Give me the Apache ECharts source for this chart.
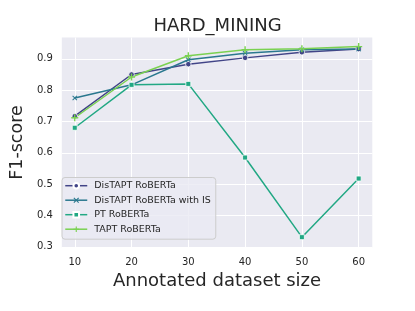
<!DOCTYPE html>
<html>
<head>
<meta charset="utf-8">
<script src="https://cdn.jsdelivr.net/npm/echarts@6/dist/echarts.min.js"></script>
<style>html,body{margin:0;padding:0;background:#fff;}#c{width:415px;height:311px;}</style>
</head>
<body>
<div id="c"></div>
<script>
const sizes = [10, 20, 30, 40, 50, 60];
const xTicks = [10, 20, 30, 40, 50, 60];
const yTicks = [0.3, 0.4, 0.5, 0.6, 0.7, 0.8, 0.9];
const distapt = [0.717, 0.850, 0.883, 0.903, 0.921, 0.931];
const distaptIS = [0.775, 0.817, 0.897, 0.918, 0.929, 0.931];
const ptRoberta = [0.680, 0.817, 0.820, 0.585, 0.331, 0.518];
const tapt = [0.712, 0.842, 0.910, 0.929, 0.932, 0.939];
const names = ['DisTAPT RoBERTa', 'DisTAPT RoBERTa with IS', 'PT RoBERTa', 'TAPT RoBERTa'];
const colors = ['#414487', '#2a788e', '#22a884', '#7ad151'];

const plusPath = 'path://M4,0H6V4H10V6H6V10H4V6H0V4H4Z';
const xPath = 'path://M1.4,0L5,3.6L8.6,0L10,1.4L6.4,5L10,8.6L8.6,10L5,6.4L1.4,10L0,8.6L3.6,5L0,1.4Z';

function mk(name, vals, color, symbol, size, border) {
  return {
    name: name,
    type: 'line',
    data: sizes.map((s, i) => [s, vals[i]]),
    symbol: symbol,
    symbolSize: size,
    showAllSymbol: true,
    lineStyle: { color: color, width: 1.5 },
    itemStyle: { color: color, borderColor: '#ffffff', borderWidth: border },
    emphasis: { disabled: true },
    animation: false
  };
}

const chart = echarts.init(document.getElementById('c'), null, { renderer: 'canvas' });
chart.setOption({
  backgroundColor: '#ffffff',
  animation: false,
  title: {
    text: 'HARD_MINING',
    left: 212.5,
    textAlign: 'center',
    top: 12,
    textStyle: { fontFamily: 'DejaVu Sans', fontSize: 18, fontWeight: 'normal', color: '#262626' }
  },
  grid: { left: 52.7, right: 42.7, top: 37.5, bottom: 63.5, show: true, backgroundColor: '#eaeaf2', borderWidth: 0 },
  legend: {
    orient: 'vertical',
    left: 62,
    top: 177.5,
    padding: [3.2, 5, 5, 2.5],
    itemWidth: 22,
    itemHeight: 7,
    itemGap: 4.5,
    backgroundColor: 'rgba(234,234,242,0.8)',
    borderColor: '#cccccc',
    borderWidth: 1,
    borderRadius: 3,
    lineStyle: { width: 1.5 },
    textStyle: { fontFamily: 'DejaVu Sans', fontSize: 9.5, color: '#262626', padding: [0, 0, 0, 2], lineHeight: 10 },
    data: names
  },
  xAxis: {
    type: 'value',
    min: 7.72,
    max: 62.4,
    name: 'Annotated dataset size',
    nameLocation: 'middle',
    nameGap: 20,
    nameTextStyle: { fontFamily: 'DejaVu Sans', fontSize: 18, color: '#262626' },
    axisLine: { show: false },
    axisTick: { show: false, customValues: xTicks },
    axisLabel: { customValues: xTicks, fontFamily: 'DejaVu Sans', fontSize: 10, color: '#262626', margin: 10 },
    splitLine: { show: true, lineStyle: { color: '#ffffff', width: 1 } }
  },
  yAxis: {
    type: 'value',
    min: 0.298,
    max: 0.968,
    name: 'F1-score',
    nameLocation: 'middle',
    nameGap: 29,
    nameTextStyle: { fontFamily: 'DejaVu Sans', fontSize: 17.5, color: '#262626' },
    axisLine: { show: false },
    axisTick: { show: false, customValues: yTicks },
    axisLabel: { customValues: yTicks, fontFamily: 'DejaVu Sans', fontSize: 10, color: '#262626', margin: 9,
      formatter: v => v.toFixed(1) },
    splitLine: { show: true, lineStyle: { color: '#ffffff', width: 1 } }
  },
  series: [
    mk(names[0], distapt, colors[0], 'circle', 5.5, 0.8),
    mk(names[1], distaptIS, colors[1], xPath, 5, 0),
    mk(names[2], ptRoberta, colors[2], 'rect', 5, 0.8),
    mk(names[3], tapt, colors[3], plusPath, 7, 0)
  ]
});
</script>
</body>
</html>
